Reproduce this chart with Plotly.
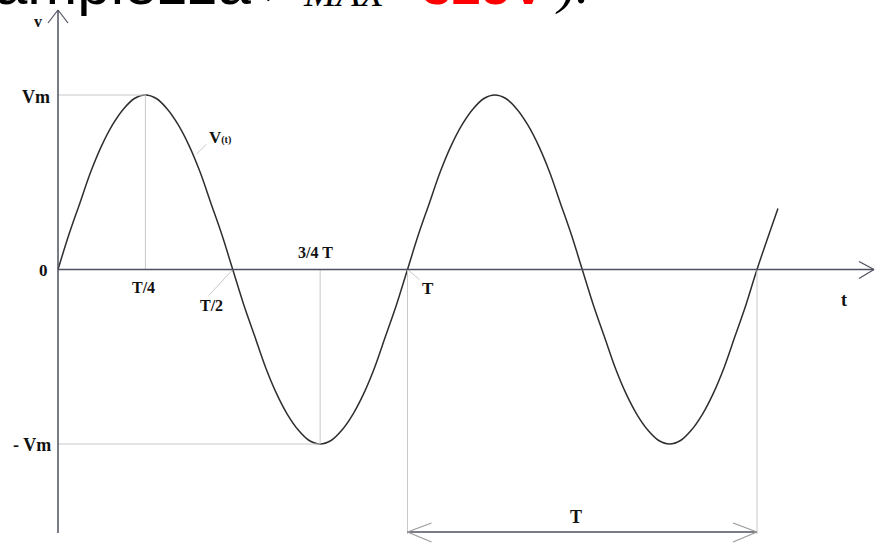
import plotly.graph_objects as go

# Waveform sample points: time in periods T (every 1/32 T), voltage in Vm
t_pts = [i / 32 for i in range(65)] + [2.06]
quarter_up = [0, 0.2, 0.38, 0.56, 0.71, 0.83, 0.92, 0.98]
quarter_down = [1, 0.98, 0.92, 0.83, 0.71, 0.56, 0.38, 0.2]
half_pos = quarter_up + quarter_down
half_neg = [-v for v in half_pos]
v_pts = half_pos + half_neg + half_pos + half_neg + [0, 0.35]

# Axis label positions and texts
x_tick_vals = [0.25, 0.5, 0.75, 1.0]
x_tick_text = ["T/4", "T/2", "3/4 T", "T"]
y_tick_vals = [1, 0, -1]
y_tick_text = ["Vm", "0", "- Vm"]

W, H = 875, 546
X0_PX, Y0_PX = 58, 269.5      # pixel position of the origin
SX, SY = 349.5, 174.5          # pixels per period / per Vm

x_range = [-X0_PX / SX, (W - X0_PX) / SX]
y_range = [(Y0_PX - H) / SY, Y0_PX / SY]


def dx(px):
    return px / SX


def dy(px):
    return px / SY


AXIS = "#4e5060"
GUIDE = "#c8c8c8"
CURVE = "#2e2e2e"
SERIF = "Liberation Serif"

fig = go.Figure()
fig.add_trace(go.Scatter(
    x=t_pts, y=v_pts, mode="lines",
    line=dict(color=CURVE, width=1.5, shape="spline", smoothing=1.0),
    hoverinfo="skip", showlegend=False,
))

shapes = []


def seg(x0, y0, x1, y1, color, width):
    shapes.append(dict(type="line", xref="x", yref="y", x0=x0, y0=y0,
                       x1=x1, y1=y1, line=dict(color=color, width=width)))


# guide lines to the peak / trough
seg(0, 1, 0.25, 1, GUIDE, 1)
seg(0.25, 0, 0.25, 1, GUIDE, 1)
seg(0, -1, 0.75, -1, GUIDE, 1)
seg(0.75, 0, 0.75, -1, GUIDE, 1)

# period marker
y_per = y_range[0] + dy(14)
seg(1, 0, 1, y_per - dy(2), GUIDE, 1)
seg(2, 0, 2, y_per - dy(2), GUIDE, 1)
seg(1, y_per, 2, y_per, AXIS, 1.3)
seg(1, y_per, 1 + dx(24), y_per + dy(9), "#9a9a9a", 1.2)
seg(1, y_per, 1 + dx(24), y_per - dy(10), "#9a9a9a", 1.2)
seg(2, y_per, 2 - dx(24), y_per + dy(9), "#9a9a9a", 1.2)
seg(2, y_per, 2 - dx(24), y_per - dy(10), "#9a9a9a", 1.2)

# leader lines
LEAD_T, LEAD_V = 0.39, 0.66
seg(0.5, 0, 0.5 - dx(24), -dy(26), GUIDE, 1)
seg(1, 0, 1 + dx(12), -dy(10), GUIDE, 1)
seg(LEAD_T + dx(2), LEAD_V, LEAD_T + dx(12), LEAD_V + dy(10), GUIDE, 1)

# axes with arrowheads
y_top = y_range[1] - dy(10)
x_end = x_range[1] - dx(1)
seg(0, y_range[0] + dy(13), 0, y_top, AXIS, 1.5)
seg(0, 0, x_end, 0, AXIS, 1.5)
seg(0, y_top, -dx(10), y_top - dy(13), AXIS, 1.2)
seg(0, y_top, dx(10), y_top - dy(13), AXIS, 1.2)
seg(x_end, 0, x_end - dx(15), dy(8), AXIS, 1.2)
seg(x_end, 0, x_end - dx(15), -dy(9), AXIS, 1.2)

ann = []


def label(text, x, y, xs=0, ys=0, size=14, xanchor="center"):
    ann.append(dict(text=text, x=x, y=y, xref="x", yref="y", xshift=xs,
                    yshift=ys, showarrow=False, xanchor=xanchor,
                    yanchor="middle",
                    font=dict(family=SERIF, size=size, color="#111")))


# y-axis labels
label("<b>" + y_tick_text[0] + "</b>", 0, y_tick_vals[0], -6, -2, 18, "right")
label("<b>" + y_tick_text[1] + "</b>", 0, y_tick_vals[1], -8, -1, 17, "right")
label("<b>" + y_tick_text[2] + "</b>", 0, y_tick_vals[2], -5, -1, 18, "right")

# x-axis labels
label("<b>" + x_tick_text[0] + "</b>", x_tick_vals[0], 0, -2, -18, 16)
label("<b>" + x_tick_text[1] + "</b>", x_tick_vals[1], 0, -21, -36, 16)
label("<b>" + x_tick_text[2] + "</b>", x_tick_vals[2], 0, -5, 17, 16)
label("<b>" + x_tick_text[3] + "</b>", x_tick_vals[3], 0, 20, -19, 17)

label("<b>t</b>", x_range[1] - dx(31), 0, 0, -30, 18)
label("<b>v</b>", 0, y_range[1], -20, -21, 16)
label("<b>V</b><span style='font-size:10px'><b>(t)</b></span>",
      LEAD_T, LEAD_V, 26, 17, 17)
label("<b>T</b>", 1.5, y_per, -6, 15, 18)

# heading line, partly above the page edge
SANS = "Liberation Sans"


def head(text, xpx, size, family, color="#000", base=15, italic=False):
    t = f"<i>{text}</i>" if italic else text
    ann.append(dict(text=t, x=xpx / W, y=1 + (size * 0.905 + 13 - base) / H,
                    xref="paper", yref="paper", xanchor="left",
                    yanchor="top", showarrow=False,
                    font=dict(family=family, size=size, color=color)))


head("ampiezza", -8, 60, SANS)
head("V", 250, 60, SERIF, base=12, italic=True)
head("MAX", 301, 39, SERIF, base=17, italic=True)
head("=", 382, 54, SANS)
head("<b>325V</b>", 420, 53, SANS, color="#ff0000")
head(").", 553, 53, SERIF, italic=True)

fig.update_layout(
    width=W, height=H, autosize=False,
    margin=dict(l=0, r=0, t=0, b=0),
    paper_bgcolor="white", plot_bgcolor="white",
    xaxis=dict(range=x_range, visible=False, fixedrange=True),
    yaxis=dict(range=y_range, visible=False, fixedrange=True),
    shapes=shapes, annotations=ann,
)

fig.write_html("out.html")
